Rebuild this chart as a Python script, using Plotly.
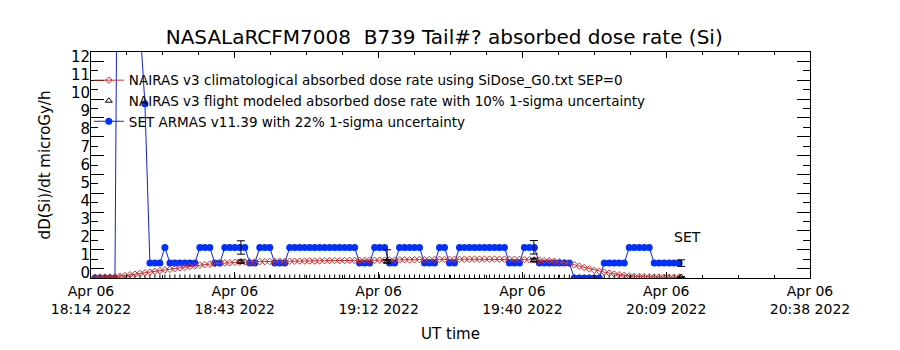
import plotly.graph_objects as go
import pandas as pd

# ARMAS (SET) absorbed dose rate, one sample per minute starting 18:14:48
armas = [0, 0, 0, 0, 0, 40, 45, 42, 38, 13.5,
         9.25, 0.79, 0.79, 0.79, 1.62, 0.79, 0.79, 0.79, 0.79, 0.79,
         0.79, 1.62, 1.62, 1.62, 0.79, 0.79, 1.62, 1.62, 1.62, 1.62,
         1.62, 0.79, 0.79, 1.62, 1.62, 1.62, 0.79, 0.79, 0.79, 1.62,
         1.62, 1.62, 1.62, 1.62, 1.62, 1.62, 1.62, 1.62, 1.62, 1.62,
         1.62, 1.62, 1.62, 0.79, 0.79, 0.79, 1.62, 1.62, 1.62, 0.79,
         0.79, 1.62, 1.62, 1.62, 1.62, 1.62, 0.79, 0.79, 0.79, 1.62,
         1.62, 0.79, 0.79, 1.62, 1.62, 1.62, 1.62, 1.62, 1.62, 1.62,
         1.62, 1.62, 1.62, 0.79, 0.79, 0.79, 1.62, 1.62, 1.62, 0.79,
         0.79, 0.79, 0.79, 0.79, 0.79, 0.79, 0, 0, 0, 0,
         0, 0, 0.79, 0.79, 0.79, 0.79, 0.79, 1.62, 1.62, 1.62,
         1.62, 1.62, 0.79, 0.79, 0.79, 0.79, 0.79, 0.79]

# NAIRAS v3 climatological absorbed dose rate
nairas_clim = [0.05, 0.05, 0.05, 0.05, 0.06, 0.09, 0.13, 0.17, 0.20, 0.24,
               0.27, 0.31, 0.35, 0.39, 0.43, 0.46, 0.50, 0.54, 0.57, 0.61,
               0.64, 0.68, 0.71, 0.74, 0.76, 0.78, 0.80, 0.81, 0.83, 0.84,
               0.85, 0.86, 0.86, 0.87, 0.87, 0.88, 0.88, 0.89, 0.88, 0.89,
               0.89, 0.90, 0.90, 0.91, 0.90, 0.91, 0.92, 0.92, 0.93, 0.92,
               0.93, 0.94, 0.93, 0.94, 0.94, 0.95, 0.94, 0.95, 0.95, 0.96,
               0.95, 0.96, 0.97, 0.96, 0.97, 0.98, 0.97, 0.98, 0.98, 0.99,
               0.98, 0.99, 1.00, 0.99, 1.00, 1.00, 1.01, 1.00, 1.01, 1.00,
               1.01, 1.00, 1.00, 0.99, 1.00, 0.99, 0.98, 0.97, 0.96, 0.95,
               0.93, 0.91, 0.89, 0.87, 0.83, 0.77, 0.70, 0.63, 0.55, 0.48,
               0.41, 0.36, 0.31, 0.26, 0.21, 0.17, 0.14, 0.11, 0.09, 0.08,
               0.07, 0.06, 0.05, 0.05, 0.04, 0.04, 0.04, 0.04]

times = pd.date_range("2022-04-06 18:14:48", periods=len(armas), freq="1min")

# points carrying uncertainty bars
err_times = pd.to_datetime(["2022-04-06 18:44:02", "2022-04-06 19:13:18",
                            "2022-04-06 19:42:42", "2022-04-06 20:12:12"])
armas_err_vals = [1.62, 1.23, 1.63, 0.79]
nairas_flight = [0.87, 0.88, 0.95, 0.05]

tick_times = pd.to_datetime(["2022-04-06 18:14:00", "2022-04-06 18:42:48",
                             "2022-04-06 19:11:36", "2022-04-06 19:40:24",
                             "2022-04-06 20:09:12", "2022-04-06 20:38:00"])
tick_text = ["Apr 06<br>18:14 2022", "Apr 06<br>18:43 2022", "Apr 06<br>19:12 2022",
             "Apr 06<br>19:40 2022", "Apr 06<br>20:09 2022", "Apr 06<br>20:38 2022"]
y_ticks = list(range(0, 13))
y_long_ticks = [v + 0.5 for v in range(0, 12)]

x_start = pd.Timestamp("2022-04-06 18:14:00")
x_end = pd.Timestamp("2022-04-06 20:38:00")
minor_x = [x_start + pd.Timedelta(minutes=7.2 * i) for i in range(21)]

FONT = "DejaVu Sans"
fig = go.Figure()

# bottom sample ticks
fig.add_trace(go.Scatter(x=times, y=[0] * len(times), mode="markers",
                         marker=dict(symbol="line-ns", size=5, line=dict(width=1, color="black")),
                         showlegend=False, hoverinfo="skip"))

fig.add_trace(go.Scatter(
    x=times, y=armas, mode="lines+markers", name="SET ARMAS v11.39 with 22% 1-sigma uncertainty",
    line=dict(color="#1024c8", width=1), marker=dict(color="#0030ff", size=7, symbol="circle"),
    legendrank=3))

fig.add_trace(go.Scatter(
    x=times, y=nairas_clim, mode="lines+markers",
    name="NAIRAS v3 climatological absorbed dose rate using SiDose_G0.txt SEP=0",
    line=dict(color="#c83232", width=1),
    marker=dict(color="#c83232", size=5, symbol="diamond-open", line=dict(width=1, color="#c83232")),
    legendrank=1))

fig.add_trace(go.Scatter(
    x=err_times, y=armas_err_vals, mode="markers", showlegend=False,
    marker=dict(size=1, color="rgba(0,0,0,0)"),
    error_y=dict(type="percent", value=22, color="black", thickness=1, width=4)))

fig.add_trace(go.Scatter(
    x=err_times, y=nairas_flight, mode="markers",
    name="NAIRAS v3 flight modeled absorbed dose rate with 10% 1-sigma uncertainty",
    marker=dict(color="black", size=6, symbol="triangle-up-open", line=dict(width=1, color="black")),
    error_y=dict(type="percent", value=10, color="black", thickness=1, width=4),
    legendrank=2))

# carrier for the label-only y axis
fig.add_trace(go.Scatter(x=[None], y=[None], yaxis="y2", showlegend=False, hoverinfo="skip"))

fig.add_annotation(x=pd.Timestamp("2022-04-06 20:13:24"), y=2.2, text="SET", showarrow=False,
                   font=dict(family=FONT, size=14, color="black"))

# page body adds an 8px offset; the figure is sized to fill the remaining window
fig.update_layout(
    width=892, height=342,
    margin=dict(l=83, r=90, t=44, b=72, autoexpand=False),
    paper_bgcolor="white", plot_bgcolor="white",
    font=dict(family=FONT, color="black", size=14),
    title=dict(text="NASALaRCFM7008  B739 Tail#? absorbed dose rate (Si)",
               x=0.489, xanchor="center", y=0.915, yanchor="middle",
               font=dict(family=FONT, size=20, color="black")),
    showlegend=True,
    legend=dict(x=-0.003, y=0.943, xanchor="left", yanchor="top",
                bgcolor="rgba(0,0,0,0)", borderwidth=0, itemwidth=30,
                font=dict(family=FONT, size=13.5, color="black"),
                tracegroupgap=0),
    xaxis=dict(type="date", range=[x_start, x_end], showgrid=False, zeroline=False,
               automargin=False,
               showline=True, linecolor="black", linewidth=1, mirror="ticks",
               tickmode="array", tickvals=tick_times, ticktext=tick_text,
               ticks="inside", ticklen=6, tickcolor="black",
               tickfont=dict(family=FONT, size=14, color="black"),
               minor=dict(tickmode="array", tickvals=minor_x, ticks="inside", ticklen=3,
                          tickcolor="black", showgrid=False),
               title=dict(text="UT time", font=dict(family=FONT, size=15, color="black"),
                          standoff=12)),
    yaxis=dict(range=[0, 12], showgrid=False, zeroline=False, automargin=False,
               showline=True, linecolor="black", linewidth=1, mirror="ticks",
               tickmode="array", tickvals=y_ticks, showticklabels=False,
               ticks="inside", ticklen=7, tickcolor="black",
               minor=dict(tickmode="array", tickvals=y_long_ticks, ticks="inside", ticklen=13,
                          tickcolor="black", showgrid=False)),
    yaxis2=dict(overlaying="y", side="left", range=[-0.278, 12.278], automargin=False,
                showgrid=False, zeroline=False, showline=False, ticks="",
                tickmode="array", tickvals=y_ticks,
                tickfont=dict(family=FONT, size=15, color="black"),
                title=dict(text="dD(Si)/dt microGy/h", font=dict(family=FONT, size=15, color="black"),
                           standoff=16)),
)

fig.write_html("out.html")
